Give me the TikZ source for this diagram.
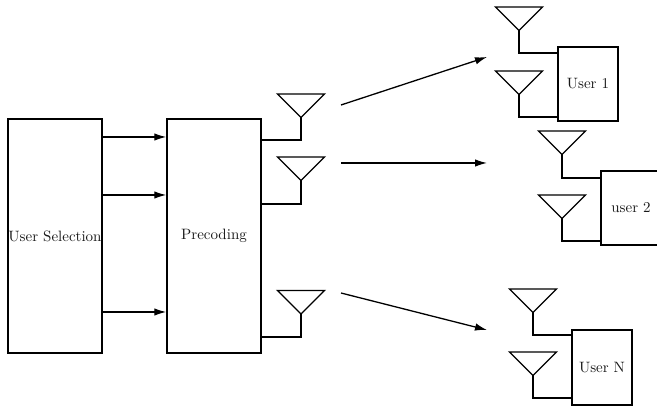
\documentclass[tikz,border=0pt]{standalone}
\usepackage{graphicx}
\usetikzlibrary{arrows.meta}
\newcommand{\blocktext}[1]{\scalebox{1.5}{#1}}
\tikzset{
  x=1pt,y=-1pt,
  block/.style={draw=black,line width=1.5pt,rectangle,inner sep=0pt,align=center,font=\fontsize{10}{12}\selectfont,text=black!90},
  wire/.style={draw=black,line width=1.3pt},
  arrowline/.style={draw=black,line width=1.3pt,-{Latex[length=12pt,width=7.5pt]}},
  aerial/.pic={
    \draw[line width=1.3pt,line join=miter] (-23.5,0) -- (23.5,0) -- (0,23.5) -- cycle;
    \coordinate (-apex) at (0,23.5);
  }
}
\begin{document}
\begin{tikzpicture}
\useasboundingbox (0,0) rectangle (657,411);
\node[block,minimum width=94pt,minimum height=234pt] (sel) at (55,236) {\blocktext{User Selection}};
\node[block,minimum width=94pt,minimum height=234pt] (prec) at (214,236) {\blocktext{Precoding}};
\node[block,minimum width=60pt,minimum height=74pt] (u1) at (588,84) {\blocktext{User 1}};
\node[block,minimum width=60pt,minimum height=74pt] (u2) at (631,208) {\blocktext{user 2}};
\node[block,minimum width=60pt,minimum height=75pt] (un) at (602,367.5) {\blocktext{User N}};
\foreach \y in {137,195,312}
  \draw[arrowline] (sel.east |- 0,\y) -- (prec.west |- 0,\y);
\pic (t1) at (301,94) {aerial};
\pic (t2) at (301,157) {aerial};
\pic (t3) at (301,290.5) {aerial};
\draw[wire] (t1-apex) |- (prec.east |- 0,140);
\draw[wire] (t2-apex) |- (prec.east |- 0,204);
\draw[wire] (t3-apex) |- (prec.east |- 0,337);
\pic (a1) at (519,7) {aerial};
\pic (a2) at (519,71) {aerial};
\pic (b1) at (562,131) {aerial};
\pic (b2) at (562,195) {aerial};
\pic (c1) at (533,289) {aerial};
\pic (c2) at (533,352) {aerial};
\draw[wire] (a1-apex) |- (u1.west |- 0,53);
\draw[wire] (a2-apex) |- (u1.west |- 0,117);
\draw[wire] (b1-apex) |- (u2.west |- 0,178);
\draw[wire] (b2-apex) |- (u2.west |- 0,241);
\draw[wire] (c1-apex) |- (un.west |- 0,335);
\draw[wire] (c2-apex) |- (un.west |- 0,398);
\coordinate (s1) at (341,105);
\coordinate (e1) at (487,57);
\coordinate (s2) at (341,163);
\coordinate (e2) at (487,163);
\coordinate (s3) at (341,293);
\coordinate (e3) at (487,330);
\draw[arrowline] (s1) -- (e1);
\draw[arrowline] (s2) -- (e2);
\draw[arrowline] (s3) -- (e3);
\end{tikzpicture}
\end{document}
